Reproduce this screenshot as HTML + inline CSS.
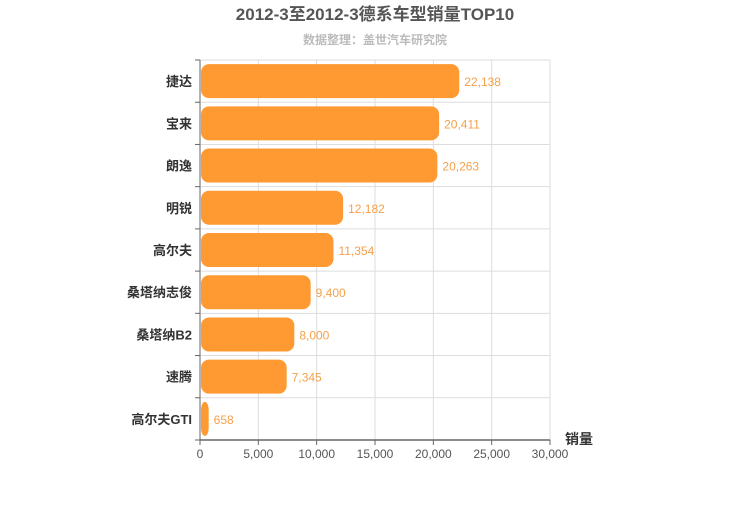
<!DOCTYPE html>
<html><head><meta charset="utf-8"><style>
body{margin:0;background:#fff;}
svg text{font-family:"Liberation Sans","Noto Sans CJK SC",sans-serif;}
</style></head><body>
<svg id="c" width="750" height="500">
<text x="375" y="20" text-anchor="middle" font-size="17" font-weight="bold" fill="#555">2012-3至2012-3德系车型销量TOP10</text>
<text x="375" y="44" text-anchor="middle" font-size="12" font-weight="bold" fill="#bbb">数据整理：盖世汽车研究院</text>
<g id="grid"></g><g id="bars"></g><g id="axes"></g>
</svg>
<script>
const categories=["捷达","宝来","朗逸","明锐","高尔夫","桑塔纳志俊","桑塔纳B2","速腾","高尔夫GTI"];
const values=[22138,20411,20263,12182,11354,9400,8000,7345,658];
const xTicks=[0,5000,10000,15000,20000,25000,30000];
const xMax=30000;
const L=200,R=550,T=60,B=440;
const svg=document.getElementById('c');
const NS="http://www.w3.org/2000/svg";
const xs=v=>L+(v/xMax)*(R-L);
const band=(B-T)/categories.length;
function mk(tag,attrs,parent,txt){const e=document.createElementNS(NS,tag);for(const k in attrs)e.setAttribute(k,attrs[k]);if(txt!==undefined)e.textContent=txt;(parent||svg).appendChild(e);return e;}
const grid=document.getElementById('grid'),bars=document.getElementById('bars'),axes=document.getElementById('axes');
xTicks.forEach(t=>{
 const g=mk('line',{x1:xs(t),x2:xs(t),y1:T,y2:B,stroke:'#ddd','stroke-width':1},grid);
 
 
 const tl=mk('line',{x1:xs(t),x2:xs(t),y1:B,y2:B+5,stroke:'#666'},axes);
 
 
 const lb=mk('text',{x:xs(t),y:B+18,'text-anchor':'middle','font-size':12,fill:'#555'},axes,t.toLocaleString('en-US'));
 
 
});
for(let i=0;i<=categories.length;i++){
 const y=T+i*band;
 const g=mk('line',{x1:L,x2:R,y1:y,y2:y,stroke:'#ddd'},grid);
 
 
 const tk=mk('line',{x1:L-5,x2:L,y1:y,y2:y,stroke:'#666'},axes);
 
 
}
categories.forEach((c,i)=>{
 const yc=T+(i+0.5)*band;
 const w=Math.max(xs(values[i])-L,7);
 const r=mk('rect',{x:L+1,y:yc-17,width:w,height:34,rx:8,ry:8,fill:'#ff9a33'},bars);
 
 
 const v=mk('text',{x:L+1+w+5,y:yc+5,'font-size':12,fill:'#f5a04a'},bars,values[i].toLocaleString('en-US'));
 
 
 const cl=mk('text',{x:L-8,y:yc+5,'text-anchor':'end','font-size':13,'font-weight':'bold',fill:'#333'},axes,c);
 
 
});
const ya=mk('line',{x1:L,x2:L,y1:T,y2:B,stroke:'#666','stroke-width':1},axes);


const xa=mk('line',{x1:L,x2:R,y1:B,y2:B,stroke:'#666','stroke-width':1.5},axes);


const xt=mk('text',{x:565,y:444,'font-size':14,'font-weight':'bold',fill:'#333'},axes,'销量');


</script>
</body></html>
